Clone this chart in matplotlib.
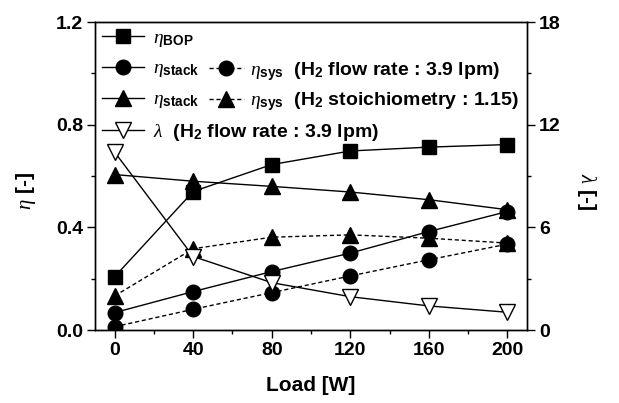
import numpy as np
import matplotlib
matplotlib.use('Agg')
import matplotlib.pyplot as plt
from matplotlib.ticker import MultipleLocator, FormatStrFormatter

plt.rcParams['font.family'] = 'Liberation Sans'
plt.rcParams['font.weight'] = 'bold'
plt.rcParams['mathtext.fontset'] = 'custom'
plt.rcParams['mathtext.it'] = 'Liberation Serif:style=italic:weight=normal'
plt.rcParams['mathtext.rm'] = 'Liberation Sans:bold'
plt.rcParams['mathtext.bf'] = 'Liberation Sans:bold'

# data
load = [0, 40, 80, 120, 160, 200]
eta_bop = [0.208, 0.54, 0.645, 0.698, 0.713, 0.723]
eta_stack_flow = [0.068, 0.150, 0.228, 0.300, 0.384, 0.462]
eta_sys_flow = [0.013, 0.081, 0.146, 0.211, 0.274, 0.335]
eta_stack_stoi = [0.606, 0.580, 0.560, 0.538, 0.508, 0.469]
eta_sys_stoi = [0.133, 0.317, 0.362, 0.371, 0.358, 0.339]
lam = [10.4, 4.3, 2.77, 1.95, 1.41, 1.04]

fig = plt.figure(figsize=(6.19, 4.03), dpi=100)
ax = fig.add_axes([0.1535, 0.181, 0.698, 0.764])
ax2 = ax.twinx()

lw = 1.0
dash = (0, (3, 2))
h_bop, = ax.plot(load, eta_bop, 'k-', marker='s', ms=9.5, lw=lw)
h_sf, = ax.plot(load, eta_stack_flow, 'k-', marker='o', ms=10.5, lw=lw)
h_yf, = ax.plot(load, eta_sys_flow, 'k', ls=dash, marker='o', ms=10.5, lw=lw)
h_st, = ax.plot(load, eta_stack_stoi, 'k-', marker='^', ms=11, lw=lw)
h_yt, = ax.plot(load, eta_sys_stoi, 'k', ls=dash, marker='^', ms=11, lw=lw)
h_lam, = ax2.plot(load, lam, 'k-', marker='v', ms=11.5, mfc='white', mec='k', mew=1.0, lw=lw)

ax.set_xlim(-10, 210)
ax.set_ylim(0, 1.2)
ax2.set_ylim(0, 18)
ax.xaxis.set_major_locator(MultipleLocator(40))
ax.xaxis.set_minor_locator(MultipleLocator(20))
ax.yaxis.set_major_locator(MultipleLocator(0.4))
ax.yaxis.set_minor_locator(MultipleLocator(0.2))
ax2.yaxis.set_major_locator(MultipleLocator(6))
ax2.yaxis.set_minor_locator(MultipleLocator(3))
ax.yaxis.set_major_formatter(FormatStrFormatter('%.1f'))

for a in (ax, ax2):
    for s in a.spines.values():
        s.set_linewidth(1.0)
ax.tick_params(which='major', direction='out', length=5.5, width=1.0, labelsize=14, pad=3)
ax.tick_params(which='minor', direction='out', length=3, width=1.0)
ax.tick_params(top=False, right=False, which='both')
ax2.tick_params(which='major', direction='out', length=5.5, width=1.0, labelsize=14, pad=3)
ax2.tick_params(which='minor', direction='out', length=3, width=1.0)

ax.set_xlabel('Load [W]', fontsize=15, fontweight='bold', labelpad=12)
ax.set_ylabel(r'$\eta$ [-]', fontsize=15, fontweight='bold')
ax2.set_ylabel(r'$\lambda$ [-]', fontsize=15, fontweight='bold', rotation=270)
ax.yaxis.set_label_coords(-0.133, 0.45)
ax2.yaxis.set_label_coords(1.163, 0.45)

leg_kw = dict(frameon=False, fontsize=14, handlelength=2.15, handletextpad=0.5,
              labelspacing=0.58, borderpad=0.35, borderaxespad=0.0)
labels1 = [r'$\eta_{\mathbf{BOP}}$', r'$\eta_{\mathbf{stack}}$', r'$\eta_{\mathbf{stack}}$',
           r'$\lambda$  (H$_{\mathbf{2}}$ flow rate : 3.9 lpm)']
leg1 = ax2.legend([h_bop, h_sf, h_st, h_lam], labels1, loc='upper left',
                  bbox_to_anchor=(0.0, 1.0), **leg_kw)
ax2.add_artist(leg1)
labels2 = [r'$\eta_{\mathbf{sys}}$  (H$_{\mathbf{2}}$ flow rate : 3.9 lpm)',
           r'$\eta_{\mathbf{sys}}$  (H$_{\mathbf{2}}$ stoichiometry : 1.15)']
ax2.legend([h_yf, h_yt], labels2, loc='upper left', bbox_to_anchor=(0.248, 0.9),
           **dict(leg_kw, handlelength=1.8, handletextpad=0.3, labelspacing=0.4))

fig.savefig('out.png', dpi=100)
